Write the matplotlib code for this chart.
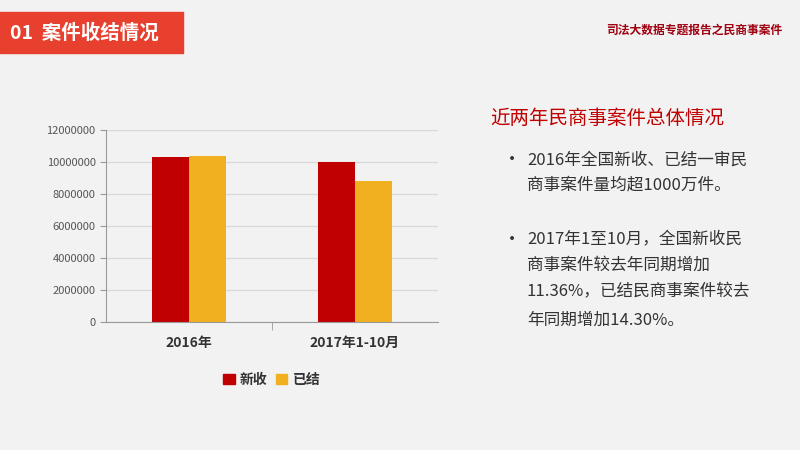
import matplotlib
matplotlib.use("Agg")
import matplotlib.pyplot as plt
import numpy as np
from matplotlib.patches import Rectangle, Patch

plt.rcParams["font.family"] = ["Noto Sans CJK SC", "DejaVu Sans"]

categories = ["2016年", "2017年1-10月"]
series_names = ["新收", "已结"]
new_cases = [10310000, 10000000]
closed_cases = [10380000, 8800000]
yticks = [0, 2000000, 4000000, 6000000, 8000000, 10000000, 12000000]

RED = "#c00000"
YELLOW = "#f0b020"
BG = "#f2f2f2"

fig = plt.figure(figsize=(8, 4.5), dpi=100)
fig.patch.set_facecolor(BG)

# header
fig.patches.append(Rectangle((0, 1 - 53 / 450), 183 / 800, 41 / 450,
                             transform=fig.transFigure, color="#e8402e", zorder=1))
fig.text(10 / 800, 1 - 33 / 450, "01  案件收结情况", color="white", fontsize=14,
         fontweight="bold", va="center")
fig.text(782 / 800, 1 - 30 / 450, "司法大数据专题报告之民商事案件", color="#a00010",
         fontsize=8.5, fontweight="bold", va="center", ha="right")

ax = fig.add_axes([106 / 800, 1 - 322 / 450, 332 / 800, 192 / 450])
ax.set_facecolor(BG)
x = np.arange(len(categories))
w = 0.224
ax.bar(x - w / 2, new_cases, w, color=RED, label=series_names[0], zorder=2)
ax.bar(x + w / 2, closed_cases, w, color=YELLOW, label=series_names[1], zorder=2)
ax.set_xlim(-0.5, 1.5)
ax.set_ylim(0, 12000000)
ax.set_yticks(yticks)
ax.set_yticklabels([str(v) for v in yticks], fontsize=8, color="#555555")
ax.set_xticks([0.5], minor=True)
ax.set_xticks(x)
ax.set_xticklabels(categories, fontsize=10, fontweight="bold", color="#333333")
ax.tick_params(axis="x", which="major", length=0, pad=10)
ax.tick_params(axis="x", which="minor", length=6, color="#999999")
ax.tick_params(axis="y", length=4, color="#999999")
ax.grid(True, axis="y", color="#d9d9d9", linewidth=1, zorder=0)
for s in ["top", "right"]:
    ax.spines[s].set_visible(False)
ax.spines["left"].set_color("#999999")
ax.spines["bottom"].set_color("#999999")
ax.legend(handles=[Patch(color=RED, label=series_names[0]),
                   Patch(color=YELLOW, label=series_names[1])],
          loc="upper center", bbox_to_anchor=(0.5, -0.2), ncol=2, frameon=False,
          prop={"size": 10, "weight": "bold"}, handlelength=0.8, handleheight=0.8,
          handletextpad=0.4, columnspacing=0.6, labelcolor="#333333")

# right text
fig.text(490 / 800, 1 - 118 / 450, "近两年民商事案件总体情况", color=RED,
         fontsize=14, va="center")
lines = [(160, "2016年全国新收、已结一审民", True),
         (185, "商事案件量均超1000万件。", False),
         (240, "2017年1至10月，全国新收民", True),
         (265, "商事案件较去年同期增加", False),
         (292, "11.36%，已结民商事案件较去", False),
         (320, "年同期增加14.30%。", False)]
for y, t, bullet in lines:
    if bullet:
        fig.text(503 / 800, 1 - y / 450, "•", color="#333333", fontsize=13, va="center")
    fig.text(527 / 800, 1 - y / 450, t, color="#333333", fontsize=12, va="center")

fig.savefig("out.png", dpi=100, facecolor=BG)
